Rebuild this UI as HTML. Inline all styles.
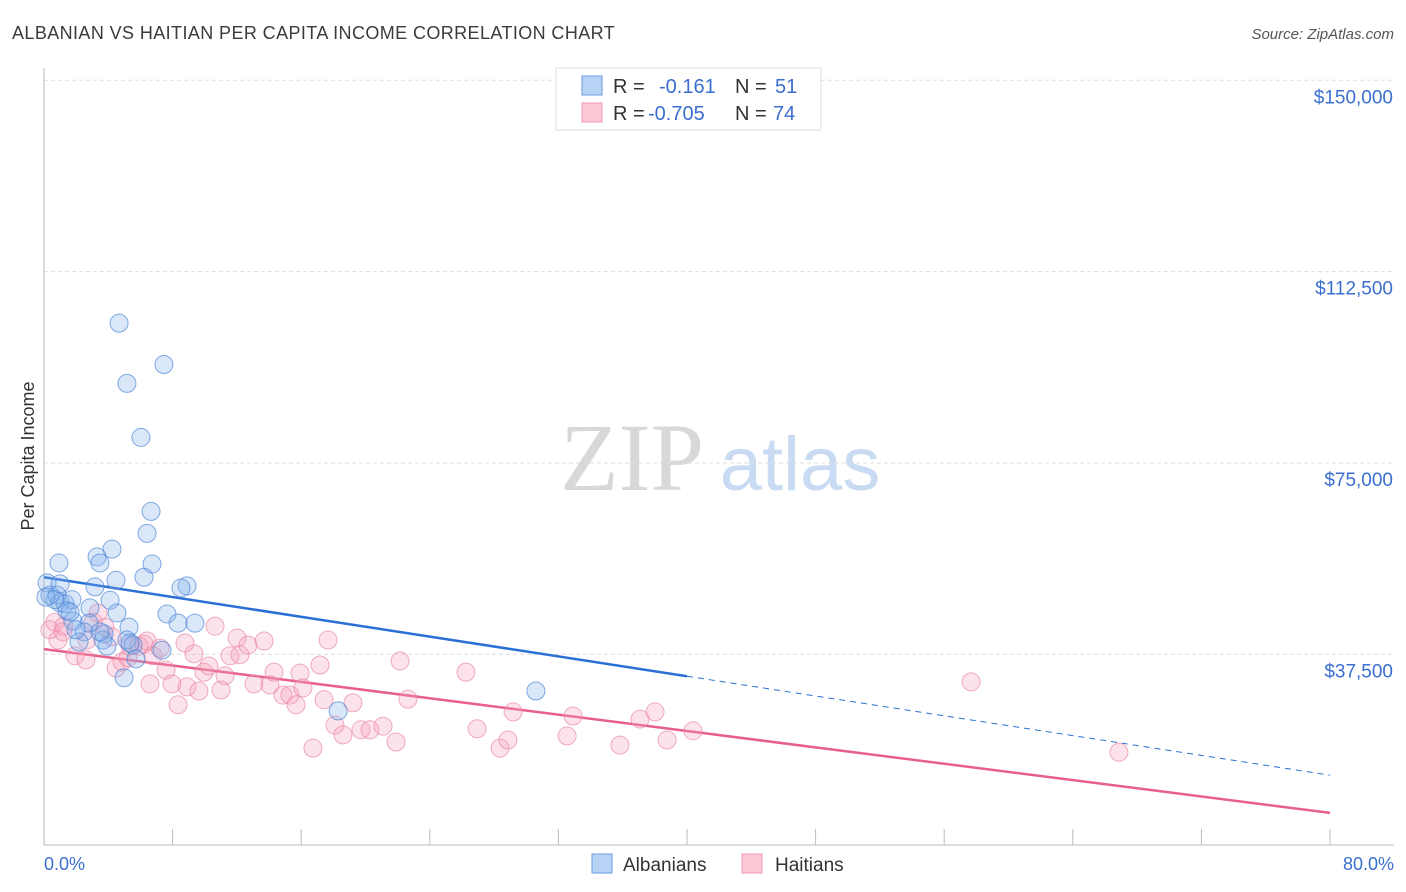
<!DOCTYPE html>
<html><head><meta charset="utf-8">
<style>
body{margin:0;background:#fff;font-family:"Liberation Sans",sans-serif;}
svg{display:block}
</style></head>
<body>
<svg id="c" width="1406" height="892" xmlns="http://www.w3.org/2000/svg">
<text x="12" y="39" font-size="18" fill="#3b3b3b" letter-spacing="0.4">ALBANIAN VS HAITIAN PER CAPITA INCOME CORRELATION CHART</text>
<text x="1394" y="39" font-size="15" fill="#555" text-anchor="end" font-style="italic">Source: ZipAtlas.com</text>
<g>
<text x="632" y="490" font-size="96" fill="#d8d8d8" text-anchor="middle" font-family="Liberation Serif,serif">ZIP</text>
<text x="800" y="490" font-size="76" fill="#c9dbf2" text-anchor="middle">atlas</text>
</g>
<g id="grid"></g>
<g id="axes"></g>
<g id="lines"></g>
<g id="pts"></g>
<text transform="translate(34,456) rotate(-90)" font-size="18" fill="#333" text-anchor="middle">Per Capita Income</text>
<text x="44" y="870" font-size="18" fill="#3a6fd0">0.0%</text>
<text x="1394" y="870" font-size="18" fill="#3a6fd0" text-anchor="end">80.0%</text>
<g>
<rect x="556" y="68" width="265" height="62" fill="#fff" stroke="#ddd"/>
<rect x="582" y="76" width="20" height="19" fill="#b8d3f5" stroke="#6a9de0"/>
<rect x="582" y="103" width="20" height="19" fill="#fbc8d6" stroke="#ec9ab2"/>
<text x="613" y="93" font-size="20" fill="#333">R = <tspan x="659" fill="#3a6fd0">-0.161</tspan><tspan x="735">N = </tspan><tspan x="775" fill="#3a6fd0">51</tspan></text>
<text x="613" y="120" font-size="20" fill="#333">R = <tspan x="648" fill="#3a6fd0">-0.705</tspan><tspan x="735">N = </tspan><tspan x="773" fill="#3a6fd0">74</tspan></text>
</g>
<g>
<rect x="592" y="854" width="20" height="19" fill="#b8d3f5" stroke="#6a9de0"/>
<text x="623" y="871" font-size="19" fill="#333">Albanians</text>
<rect x="742" y="854" width="20" height="19" fill="#fbc8d6" stroke="#ec9ab2"/>
<text x="775" y="871" font-size="19" fill="#333">Haitians</text>
</g>
</svg>
<script>
const yTicks=[37500,75000,112500,150000];
const yTickLabels=["$37,500","$75,000","$112,500","$150,000"];
const xTicks=[0,8,16,24,32,40,48,56,64,72,80];
const albPct=[4.67,7.46,5.16,6.03,6.66,6.41,0.93,4.23,3.30,3.48,6.72,4.48,6.22,8.90,8.52,0.19,3.17,0.37,0.81,4.11,1.00,1.31,1.74,2.86,1.43,4.54,7.65,8.34,9.39,1.80,2.80,5.29,2.49,3.73,5.16,3.67,2.18,5.54,3.92,7.34,5.72,4.98,30.6,18.3,0.68,0.12,1.62,1.99,3.48,5.35,1.00];
const albInc=[102.4,94.3,90.6,80.0,65.5,61.2,55.4,58.1,56.6,55.4,55.2,52.0,52.6,50.9,50.5,51.5,50.7,49.1,49.1,48.1,47.6,47.4,48.2,46.6,46.0,45.6,45.4,43.6,43.6,44.0,43.6,42.8,41.9,41.5,40.3,40.3,39.9,39.3,39.1,38.3,36.6,32.9,30.3,26.4,48.2,48.7,45.8,42.3,41.9,39.7,51.3];
const haiPct=[0.37,0.68,0.87,1.24,1.18,1.93,2.61,3.05,3.36,2.67,3.79,4.23,4.48,4.85,5.23,5.35,5.91,6.22,6.41,6.78,6.59,7.22,7.59,7.96,8.34,8.77,8.90,9.33,9.64,9.95,10.26,10.64,11.01,11.26,11.57,12.01,12.19,12.69,13.06,13.69,14.06,14.31,14.87,15.30,15.68,15.93,16.11,16.73,17.17,17.42,17.67,18.10,18.60,19.22,19.72,20.28,21.09,21.90,22.15,22.64,26.25,26.94,28.37,28.86,29.18,32.54,32.91,35.83,37.08,38.01,38.76,40.37,57.67,66.87];
const haiInc=[42.3,43.8,40.3,43.0,41.9,37.2,36.4,43.8,45.6,40.3,42.8,40.9,34.8,36.0,36.8,39.1,39.1,39.5,40.1,37.2,31.7,38.7,34.4,31.7,27.6,39.7,31.1,37.6,30.3,34.0,35.2,43.0,30.5,33.3,37.2,40.7,37.4,39.3,31.7,40.1,31.5,34.0,29.5,29.5,27.6,33.8,30.9,19.1,35.4,28.6,40.3,23.6,21.7,28.0,22.7,22.7,23.4,20.3,36.2,28.7,34.0,22.9,19.1,20.7,26.2,21.5,25.4,19.7,24.8,26.2,20.7,22.5,32.1,18.3];
const albTrend=[52.6,-0.485];
const haiTrend=[38.5,-0.401];

const NS="http://www.w3.org/2000/svg";
const X=p=>44+p*16.075;
const Y=v=>845.6-v*1000/196.0;
function mk(tag,attrs,parent){const e=document.createElementNS(NS,tag);for(const k in attrs)e.setAttribute(k,attrs[k]);document.getElementById(parent).appendChild(e);return e;}

yTicks.forEach((t,i)=>{
 const g=mk('line',{x1:44,x2:1394,y1:Y(t/1000),y2:Y(t/1000),stroke:'#ddd','stroke-dasharray':'4,3'},'grid');
 
 
 const tx=mk('text',{x:1393,y:Y(t/1000)+23,'font-size':19,fill:'#3a6fd0','text-anchor':'end'},'grid');
 tx.textContent=yTickLabels[i];
 
 
});
const ya=mk('line',{x1:44,x2:44,y1:68,y2:845,stroke:'#bbb'},'axes');


const xa=mk('line',{x1:44,x2:1394,y1:845,y2:845,stroke:'#bbb'},'axes');


xTicks.forEach(t=>{
 const l=mk('line',{x1:X(t),x2:X(t),y1:829,y2:845,stroke:'#bbb'},'axes');
 
 
});
function line(tr,p0,p1,col,dash,name){
 const a={x1:X(p0),y1:Y(tr[0]+tr[1]*p0),x2:X(p1),y2:Y(tr[0]+tr[1]*p1),stroke:col,'stroke-width':dash?1:2.5};
 if(dash)a['stroke-dasharray']='6,5';
 const l=mk('line',a,'lines');
 
 
}
line(albTrend,0,40,'#2a6fd6',false,'albanian-trendline');
line(albTrend,40,80,'#2a6fd6',true,'albanian-trendline-extension');
line(haiTrend,0,80,'#e8608a',false,'haitian-trendline');
function pts(P,I,fill,stroke,name){
 P.forEach((p,i)=>{
  const c=mk('circle',{cx:X(p),cy:Y(I[i]),r:9,fill:fill,stroke:stroke,'stroke-width':1},'pts');
  
  
 });
}
pts(haiPct,haiInc,'rgba(244,160,185,0.3)','rgba(232,130,162,0.65)','haitian-point');
pts(albPct,albInc,'rgba(130,175,235,0.3)','rgba(80,135,215,0.7)','albanian-point');
</script>
</body></html>
